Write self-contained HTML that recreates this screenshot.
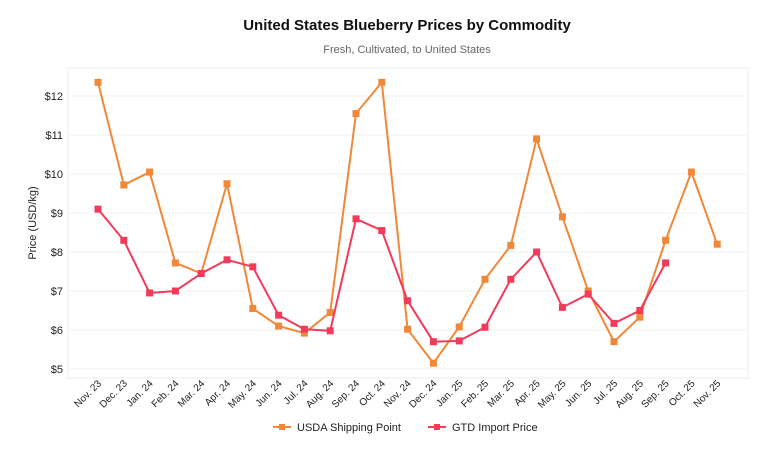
<!DOCTYPE html>
<html><head><meta charset="utf-8"><style>
body{margin:0;background:#fff;font-family:"Liberation Sans",sans-serif}
</style></head><body>
<svg id="s" width="768" height="451" xmlns="http://www.w3.org/2000/svg" font-family="Liberation Sans, sans-serif">
<rect width="768" height="451" fill="#fff"/>
<text x="407" y="30" text-anchor="middle" font-size="15" font-weight="bold" fill="#111">United States Blueberry Prices by Commodity</text>
<text x="407" y="53" text-anchor="middle" font-size="11" fill="#666">Fresh, Cultivated, to United States</text>
<rect x="68" y="68" width="680" height="310" fill="none" stroke="#eee"/>
<g id="g"></g>
<text transform="translate(36,223) rotate(-90)" text-anchor="middle" font-size="11" fill="#222">Price (USD/kg)</text>
<line x1="273" y1="427" x2="291" y2="427" stroke="#f0883a" stroke-width="2"/><rect x="279" y="424" width="6" height="6" fill="#f0883a"/>
<text x="297" y="431" font-size="11" fill="#222">USDA Shipping Point</text>
<line x1="428" y1="427" x2="446" y2="427" stroke="#f03c5a" stroke-width="2"/><rect x="434" y="424" width="6" height="6" fill="#f03c5a"/>
<text x="452" y="431" font-size="11" fill="#222">GTD Import Price</text>
</svg>
<script>
var g=document.getElementById('g'),h='';
function Y(v){return 369-(v-5)*39}
function X(i){return 98+i*25.8}
for(var v=5;v<=12;v++){h+='<line x1="68" x2="748" y1="'+Y(v)+'" y2="'+Y(v)+'" stroke="#f2f2f2"/>';h+='<text x="63" y="'+(Y(v)+4)+'" text-anchor="end" font-size="11" fill="#222">$'+v+'</text>';}
var L=["Nov. 23","Dec. 23","Jan. 24","Feb. 24","Mar. 24","Apr. 24","May. 24","Jun. 24","Jul. 24","Aug. 24","Sep. 24","Oct. 24","Nov. 24","Dec. 24","Jan. 25","Feb. 25","Mar. 25","Apr. 25","May. 25","Jun. 25","Jul. 25","Aug. 25","Sep. 25","Oct. 25","Nov. 25"];
L.forEach(function(t,i){h+='<text transform="translate('+(X(i)+4)+',384) rotate(-45)" text-anchor="end" font-size="10" fill="#222">'+t+'</text>';});
var o=[12.35,9.72,10.05,7.72,7.45,9.75,6.55,6.1,5.92,6.45,11.55,12.35,6.02,5.15,6.08,7.3,8.17,10.9,8.9,7.0,5.7,6.33,8.3,10.05,8.2];
var r=[9.1,8.3,6.95,7.0,7.45,7.8,7.62,6.38,6.02,5.98,8.85,8.55,6.75,5.7,5.72,6.07,7.3,8.0,6.58,6.92,6.17,6.5,7.72];
function s(d,c){var p=d.map(function(v,i){return X(i)+','+Y(v)}).join(' ');h+='<polyline points="'+p+'" fill="none" stroke="'+c+'" stroke-width="2"/>';d.forEach(function(v,i){h+='<rect x="'+(X(i)-3.5)+'" y="'+(Y(v)-3.5)+'" width="7" height="7" fill="'+c+'"/>'});}
s(o,'#f0883a');s(r,'#f03c5a');
g.innerHTML=h;
</script>
</body></html>
